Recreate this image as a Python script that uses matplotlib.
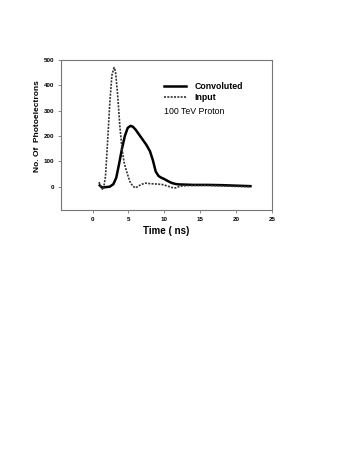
import matplotlib.pyplot as plt

plt.rcParams['font.family'] = ['Liberation Sans', 'DejaVu Sans']

# Convoluted pulse (solid)
conv_t = [1.0, 1.3, 1.8, 2.4, 2.9, 3.3, 3.7, 4.1, 4.5, 4.9, 5.3, 5.6, 6.0, 6.5,
          7.0, 7.5, 8.0, 8.4, 8.8, 9.2, 9.6, 10.0, 10.5, 11.0, 11.5, 12.0, 13.0,
          14.0, 16.0, 18.0, 20.0, 22.0]
conv_v = [5, -3, -2, 0, 10, 35, 90, 150, 200, 232, 240, 237, 225, 205,
          185, 165, 140, 105, 60, 42, 35, 30, 22, 15, 11, 9, 8,
          7, 7, 6, 4, 2]

# Input pulse (dotted)
inp_t = [0.9, 1.2, 1.5, 1.8, 2.1, 2.4, 2.7, 3.0, 3.2, 3.5, 3.8, 4.1, 4.4, 4.8,
         5.2, 5.6, 6.0, 6.4, 6.9, 7.4, 8.0, 8.6, 9.2, 9.8, 10.4, 11.0, 11.6,
         12.2, 13.0, 14.0, 16.0, 18.0, 20.0, 22.0]
inp_v = [18, -5, -12, 40, 180, 330, 440, 470, 455, 360, 240, 150, 95, 55,
         20, 2, -5, 3, 10, 14, 12, 11, 10, 8, 3, -3, -5,
         2, 4, 5, 5, 3, 1, 0]

x_ticks = [0, 5, 10, 15, 20, 25]
y_ticks = [0, 100, 200, 300, 400, 500]

fig = plt.figure(figsize=(3.6, 4.66), dpi=100)
ax = fig.add_axes([0.1694, 0.5494, 0.586, 0.3219])

ax.plot(conv_t, conv_v, color='black', linewidth=1.8, label='Convoluted')
ax.plot(inp_t, inp_v, color='#333333', linewidth=1.2,
        linestyle=(0, (1.2, 0.8)), label='Input')

ax.set_xlim(-4.4, 25)
ax.set_ylim(-92, 500)
ax.set_xticks(x_ticks)
ax.set_yticks(y_ticks)
ax.tick_params(labelsize=4.5, length=2, width=0.6, color='#777777', pad=3)
for lab in ax.get_xticklabels() + ax.get_yticklabels():
    lab.set_fontweight('bold')

for sp in ax.spines.values():
    sp.set_color('#777777')
    sp.set_linewidth(0.8)

ax.set_xlabel('Time ( ns)', fontsize=7, fontweight='bold', labelpad=3)
ax.set_ylabel('No. Of  Photoelectrons', fontsize=6, fontweight='bold')
ax.yaxis.set_label_coords(-0.093, 0.557)

leg = ax.legend(loc='upper left', bbox_to_anchor=(0.47, 0.875), frameon=False,
                handlelength=2.6, handletextpad=0.9,
                borderaxespad=0, labelspacing=0.25,
                prop={'weight': 'bold', 'size': 6.3})

ax.text(0.49, 0.655, '100 TeV Proton', transform=ax.transAxes,
        fontsize=6.3, va='center', ha='left')

fig.savefig('out.png', dpi=100)
